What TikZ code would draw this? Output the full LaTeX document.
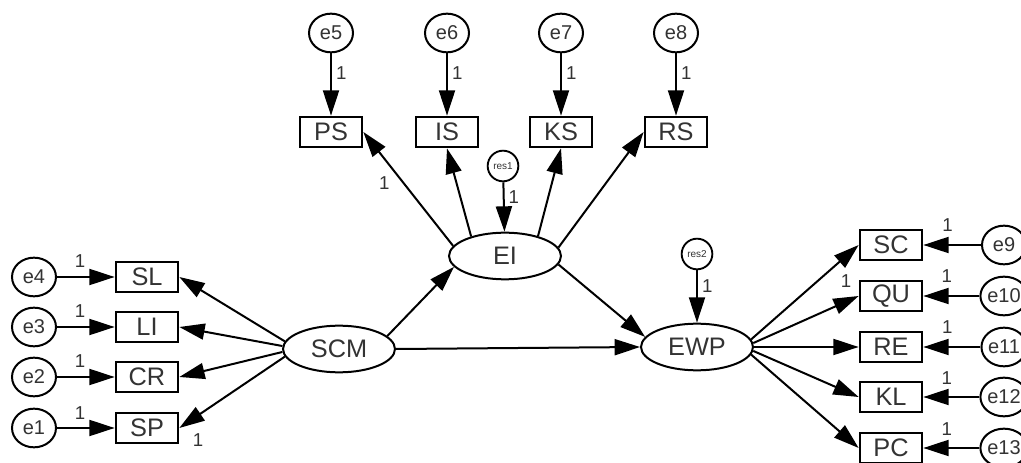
\documentclass[tikz,border=0pt]{standalone}
\usepackage{fontspec}
\setmainfont{Liberation Sans}
\usepackage{tikz}
\usetikzlibrary{arrows.meta,positioning,shapes.geometric}

\begin{document}
\begin{tikzpicture}[
    >={Triangle[length=19pt,width=12pt]},
    x=0.75pt, y=-0.75pt,
    obs/.style={draw,rectangle,line width=1.5pt,minimum width=47pt,minimum height=23pt,
                inner sep=0pt,font=\fontsize{19}{19}\selectfont,text=black!80},
    lat/.style={draw,ellipse,line width=1.5pt,minimum width=84pt,minimum height=35pt,
                inner sep=0pt,font=\fontsize{19}{19}\selectfont,text=black!80},
    err/.style={draw,ellipse,line width=1.5pt,minimum width=33pt,minimum height=29pt,
                inner sep=0pt,font=\fontsize{15}{15}\selectfont,text=black!80},
    res/.style={draw,circle,line width=1.4pt,minimum size=23pt,inner sep=0pt,
                font=\fontsize{7.5}{7.5}\selectfont,text=black!80},
    reg/.style={->,line width=1.5pt},
    one/.style={font=\fontsize{14}{14}\selectfont,text=black!80,inner sep=1pt},
  ]
  \useasboundingbox (0,0) rectangle (1021,463);
  \clip (0,0) rectangle (1021,463);

  % --- latent variables ---
  \node[lat] (SCM) at (339,349) {SCM};
  \node[lat] (EI)  at (505,256) {EI};
  \node[lat] (EWP) at (697,347) {EWP};
  \node[res] (res1) at (503,166) {res1};
  \node[res] (res2) at (697,254) {res2};

  % --- SCM indicators (left) ---
  \node[obs] (SL) at (147,277) {SL};
  \node[obs] (LI) at (147,327) {LI};
  \node[obs] (CR) at (147,377) {CR};
  \node[obs] (SP) at (147,428) {SP};
  \node[err] (e4) at (34,277) {e4};
  \node[err] (e3) at (34,327) {e3};
  \node[err] (e2) at (34,377) {e2};
  \node[err] (e1) at (34,428) {e1};

  % --- EI indicators (top) ---
  \node[obs] (PS) at (331,132) {PS};
  \node[obs] (IS) at (447,132) {IS};
  \node[obs] (KS) at (561,132) {KS};
  \node[obs] (RS) at (676,132) {RS};
  \node[err] (e5) at (331,33) {e5};
  \node[err] (e6) at (447,33) {e6};
  \node[err] (e7) at (561,33) {e7};
  \node[err] (e8) at (676,33) {e8};

  % --- EWP indicators (right) ---
  \node[obs] (SC) at (891,245) {SC};
  \node[obs] (QU) at (891,296) {QU};
  \node[obs] (RE) at (891,347) {RE};
  \node[obs] (KL) at (891,397) {KL};
  \node[obs] (PC) at (891,448) {PC};
  \node[err] (e9)  at (1004,245) {e9};
  \node[err] (e10) at (1004,296) {e10};
  \node[err] (e11) at (1004,347) {e11};
  \node[err] (e12) at (1004,397) {e12};
  \node[err] (e13) at (1004,448) {e13};

  % --- structural paths ---
  \draw[reg] (SCM.15) -- (EI.192);
  \draw[reg] (SCM.east) -- (EWP.west);
  \draw[reg] (EI.351) -- (EWP.169);
  \draw[reg] (res1) -- node[one,pos=0.3,right=2pt] {1} (EI);
  \draw[reg] (res2) -- node[one,pos=0.3,right=2pt] {1} (EWP);

  % --- loadings ---
  \draw[reg] (SCM.172) -- (SL.east);
  \draw[reg] (SCM.177) -- (LI.east);
  \draw[reg] (SCM.183) -- (CR.east);
  \draw[reg] (SCM.188) -- (SP.east) node[one,at end,xshift=14pt,yshift=-9pt] {1};
  \draw[reg] (EI.169) -- node[one,pos=0.55,left=9pt] {1} (PS.east);
  \draw[reg] (EI.150) -- (IS.south);
  \draw[reg] (EI.31)  -- (KS.south);
  \draw[reg] (EI.9)   -- (RS.west);
  \draw[reg] (EWP.8)  -- (SC.west);
  \draw[reg] (EWP.4)  -- node[one,pos=0.88,above=9pt] {1} (QU.west);
  \draw[reg] (EWP.0)  -- (RE.west);
  \draw[reg] (EWP.-4) -- (KL.west);
  \draw[reg] (EWP.-8) -- (PC.west);

  % --- error terms ---
  \foreach \e/\v in {e4/SL,e3/LI,e2/CR,e1/SP}
    \draw[reg] (\e) -- node[one,pos=0.4,above=5pt] {1} (\v);
  \foreach \e/\v in {e5/PS,e6/IS,e7/KS,e8/RS}
    \draw[reg] (\e) -- node[one,pos=0.32,right=2pt] {1} (\v);
  \foreach \e/\v in {e9/SC,e10/QU,e11/RE,e12/KL,e13/PC}
    \draw[reg] (\e) -- node[one,pos=0.58,above=8pt] {1} (\v);

\end{tikzpicture}
\end{document}
